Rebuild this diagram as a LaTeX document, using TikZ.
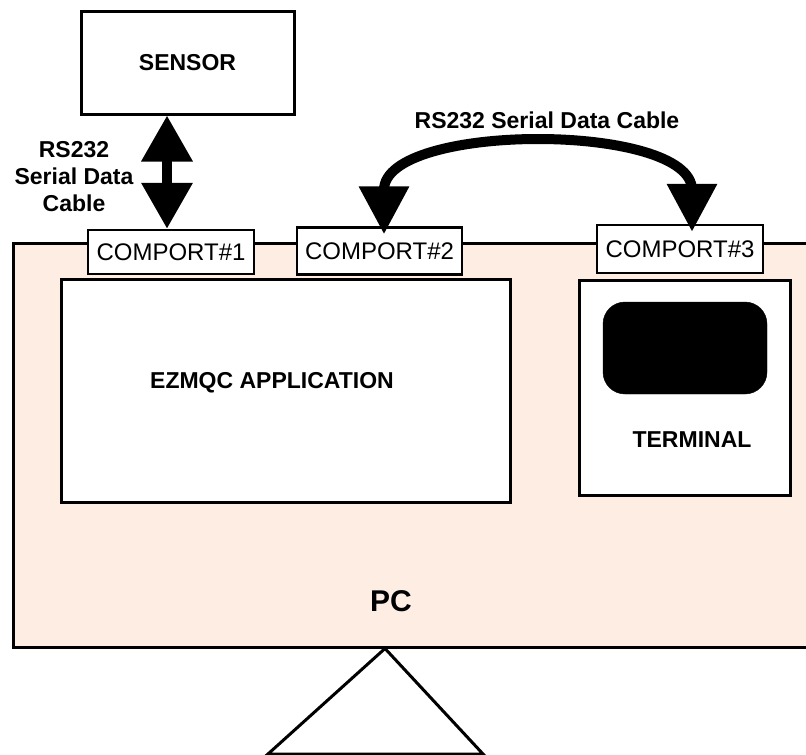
\documentclass[tikz,border=0pt]{standalone}
\usepackage{fontspec}
\setmainfont{Liberation Sans}
\usetikzlibrary{arrows.meta}
\definecolor{pcfill}{RGB}{254,237,227}
\begin{document}
\begin{tikzpicture}[x=1pt,y=-1pt,
  box/.style={draw, line width=3pt, fill=white, inner sep=0pt},
  port/.style={draw, line width=2.5pt, fill=white, inner sep=0pt, font=\fontsize{24}{28}\selectfont},
  lbl/.style={font=\fontsize{23}{27}\selectfont\bfseries, inner sep=0pt},
  cable/.style={line width=10pt, {Triangle[width=49pt,length=46pt]}-{Triangle[width=49pt,length=46pt]}},
]
\clip (0,0) rectangle (806,755);
\fill[white] (0,0) rectangle (806,755);
% PC
\node[draw, line width=3pt, fill=pcfill, minimum width=810pt, minimum height=404pt, inner sep=0pt] (pc) at (418,445) {};
\node[lbl, font=\fontsize{30}{34}\selectfont\bfseries] (pctext) at (391,601) {PC};
% sensor
\node[box, minimum width=213pt, minimum height=103pt, lbl] (sensor) at (187.5,62.5) {SENSOR};
% ports
\node[port, minimum width=166pt, minimum height=44pt] (c1) at (171,252) {COMPORT\#1};
\node[port, minimum width=165pt, minimum height=47pt] (c2) at (379.5,251) {COMPORT\#2};
\node[port, minimum width=166pt, minimum height=48pt] (c3) at (680,249) {COMPORT\#3};
% application
\node[box, minimum width=449pt, minimum height=223pt] (app) at (285.5,390.5) {};
\node[lbl] (apptext) at (272,383) {EZMQC APPLICATION};
% terminal
\node[box, minimum width=211pt, minimum height=215pt] (term) at (684.5,387.5) {};
\node[fill=black, draw=black, rounded corners=22pt, minimum width=164pt, minimum height=92pt] (screen) at (685,348) {};
\node[lbl] (termtext) at (692,440) {TERMINAL};
% stand
\draw[line width=3pt, line join=miter] (pc.south -| 385,0) -- (268,754) -- (483,754) -- cycle;
% cables
\draw[cable] ([xshift=-20.5pt]sensor.south) -- ([xshift=-4pt]c1.north);
\node[lbl, align=center] (lbl1) at (74,177) {RS232\\Serial Data\\Cable};
\draw[cable, {Triangle[width=48pt,length=48pt]}-{Triangle[width=48pt,length=48pt]}]
  ([xshift=4.5pt,yshift=-8pt]c2.north) -- (384,190) .. controls (384,122) and (692,122) .. (692,190) -- ([xshift=12pt,yshift=-8pt]c3.north);
\node[lbl] (lbl2) at (547,120) {RS232 Serial Data Cable};
\end{tikzpicture}
\end{document}
